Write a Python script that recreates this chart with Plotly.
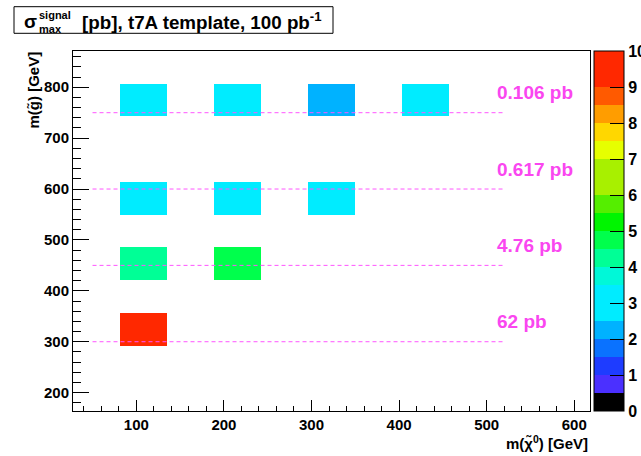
import numpy as np
import plotly.graph_objects as go

# Filled cells: centre of each cell (LSP axis, gluino axis) and its colour-scale value
cell_x = [108.5, 215.8, 323.1, 430.4, 108.5, 215.8, 323.1, 108.5, 215.8, 108.5]
cell_y = [775.0, 775.0, 775.0, 775.0, 582.0, 582.0, 582.0, 453.0, 453.0, 325.0]
cell_val = [3.0, 3.0, 2.3, 3.0, 3.0, 3.0, 3.0, 4.2, 4.8, 9.6]

# Reference cross-section lines per gluino mass
ref_mass = [750, 600, 450, 300]
ref_label = ["0.106 pb", "0.617 pb", "4.76 pb", "62 pb"]

# Colour-scale ticks and the 20 contour colours (0 -> 10, steps of 0.5)
cbar_ticks = list(range(0, 11))
level_colors = [
    "#000000", "#4b30ff", "#1e3cff", "#0a72ff", "#00b2ff",
    "#00ecff", "#00ecff", "#00f8d8", "#00ff96", "#00ff4c",
    "#00f500", "#55ee00", "#a8f000", "#a8f000", "#e6ff00",
    "#ffd700", "#ff9d00", "#ff5a00", "#ff2800", "#ff2800",
]

# Histogram binning
x_lo, x_hi, nx = 27.7, 618.0, 11
y_lo, y_hi, ny = 163.9, 871.2, 11
x_edges = np.linspace(x_lo, x_hi, nx + 1)
y_edges = np.linspace(y_lo, y_hi, ny + 1)
x_cent = 0.5 * (x_edges[:-1] + x_edges[1:])
y_cent = 0.5 * (y_edges[:-1] + y_edges[1:])

w, _, _ = np.histogram2d(cell_x, cell_y, bins=[x_edges, y_edges], weights=cell_val)
n, _, _ = np.histogram2d(cell_x, cell_y, bins=[x_edges, y_edges])
z = np.where(n > 0, w, np.nan).T
z_list = [[None if np.isnan(v) else float(v) for v in row] for row in z]

colorscale = []
nlev = len(level_colors)
for i, c in enumerate(level_colors):
    colorscale.append([i / nlev, c])
    colorscale.append([(i + 1) / nlev, c])

W, H = 641, 456
L, R, T, B = 73, 51, 51, 45
PW, PH = W - L - R, H - T - B


def px2x(px):
    return (px - L) / PW


def py2y(py):
    return (H - B - py) / PH


FONT = "Liberation Sans, Arial, sans-serif"
MAGENTA = "#fa46f0"

fig = go.Figure()

fig.add_trace(go.Heatmap(
    x=x_cent, y=y_cent, z=z_list,
    zmin=0, zmax=10, colorscale=colorscale,
    hoverongaps=False,
    colorbar=dict(
        x=px2x(593.5), xanchor="left", xpad=0,
        y=0.5, yanchor="middle", len=1, lenmode="fraction", ypad=0,
        thickness=29.5, outlinewidth=1, outlinecolor="black",
        tickmode="array", tickvals=cbar_ticks,
        ticks="inside", ticklen=14, tickcolor="black", tickwidth=1,
        tickfont=dict(family=FONT, size=16, color="black", weight="bold"),
    ),
))

for m in ref_mass:
    fig.add_trace(go.Scatter(
        x=[50, 520], y=[m, m], mode="lines",
        line=dict(color="#ff55ff", width=1, dash="4px,3px"),
        showlegend=False, hoverinfo="skip",
    ))

annotations = []
for m, lab in zip(ref_mass, ref_label):
    annotations.append(dict(
        x=510, y=m + 39, xref="x", yref="y", text=lab, showarrow=False,
        xanchor="left", yanchor="middle",
        font=dict(family=FONT, size=19, color=MAGENTA, weight="bold"),
    ))

# Axis titles
annotations.append(dict(
    x=px2x(33), y=py2y(50), xref="paper", yref="paper",
    text="m(g\u0303) [GeV]", textangle=-90, showarrow=False,
    xanchor="center", yanchor="top",
    font=dict(family=FONT, size=15, color="black", weight="bold"),
))
annotations.append(dict(
    x=px2x(590), y=py2y(443), xref="paper", yref="paper",
    text="m(\u03c7\u0303<sup>0</sup>) [GeV]", showarrow=False,
    xanchor="right", yanchor="middle",
    font=dict(family=FONT, size=15, color="black", weight="bold"),
))

# Title box
annotations.append(dict(
    x=px2x(30), y=py2y(21), xref="paper", yref="paper",
    text="\u03c3", showarrow=False, xanchor="center", yanchor="middle",
    font=dict(family=FONT, size=19, color="black", weight="bold"),
))
annotations.append(dict(
    x=px2x(36.5), y=py2y(15), xref="paper", yref="paper",
    text="signal", showarrow=False, xanchor="left", yanchor="middle",
    font=dict(family=FONT, size=11, color="black", weight="bold"),
))
annotations.append(dict(
    x=px2x(36.5), y=py2y(28.5), xref="paper", yref="paper",
    text="max", showarrow=False, xanchor="left", yanchor="middle",
    font=dict(family=FONT, size=11, color="black", weight="bold"),
))
annotations.append(dict(
    x=px2x(80), y=py2y(21), xref="paper", yref="paper",
    text="[pb], t7A template, 100 pb<sup>-1</sup>", showarrow=False,
    xanchor="left", yanchor="middle",
    font=dict(family=FONT, size=18.8, color="black", weight="bold"),
))

shapes = [dict(
    type="rect", xref="paper", yref="paper",
    x0=px2x(14), x1=px2x(333), y0=py2y(33.3), y1=py2y(6.7),
    line=dict(color="black", width=1), fillcolor="rgba(0,0,0,0)",
)]

axis_common = dict(
    showgrid=False, zeroline=False, showline=True, mirror=True,
    linecolor="black", linewidth=1, ticks="inside", tickcolor="black",
    tickwidth=1, tickfont=dict(family=FONT, size=15, color="black", weight="bold"),
)

fig.update_layout(
    width=W, height=H,
    margin=dict(l=L, r=R, t=T, b=B, pad=0, autoexpand=False),
    paper_bgcolor="white", plot_bgcolor="white",
    showlegend=False,
    xaxis=dict(range=[x_lo, x_hi], tick0=0, dtick=100, ticklen=11,
               minor=dict(dtick=20, tick0=0, ticklen=5.5, ticks="inside", tickcolor="black"),
               **axis_common),
    yaxis=dict(range=[y_lo, y_hi], tick0=0, dtick=100, ticklen=15.5,
               minor=dict(dtick=20, tick0=0, ticklen=8, ticks="inside", tickcolor="black"),
               **axis_common),
    annotations=annotations,
    shapes=shapes,
)

fig.write_html("out.html")
